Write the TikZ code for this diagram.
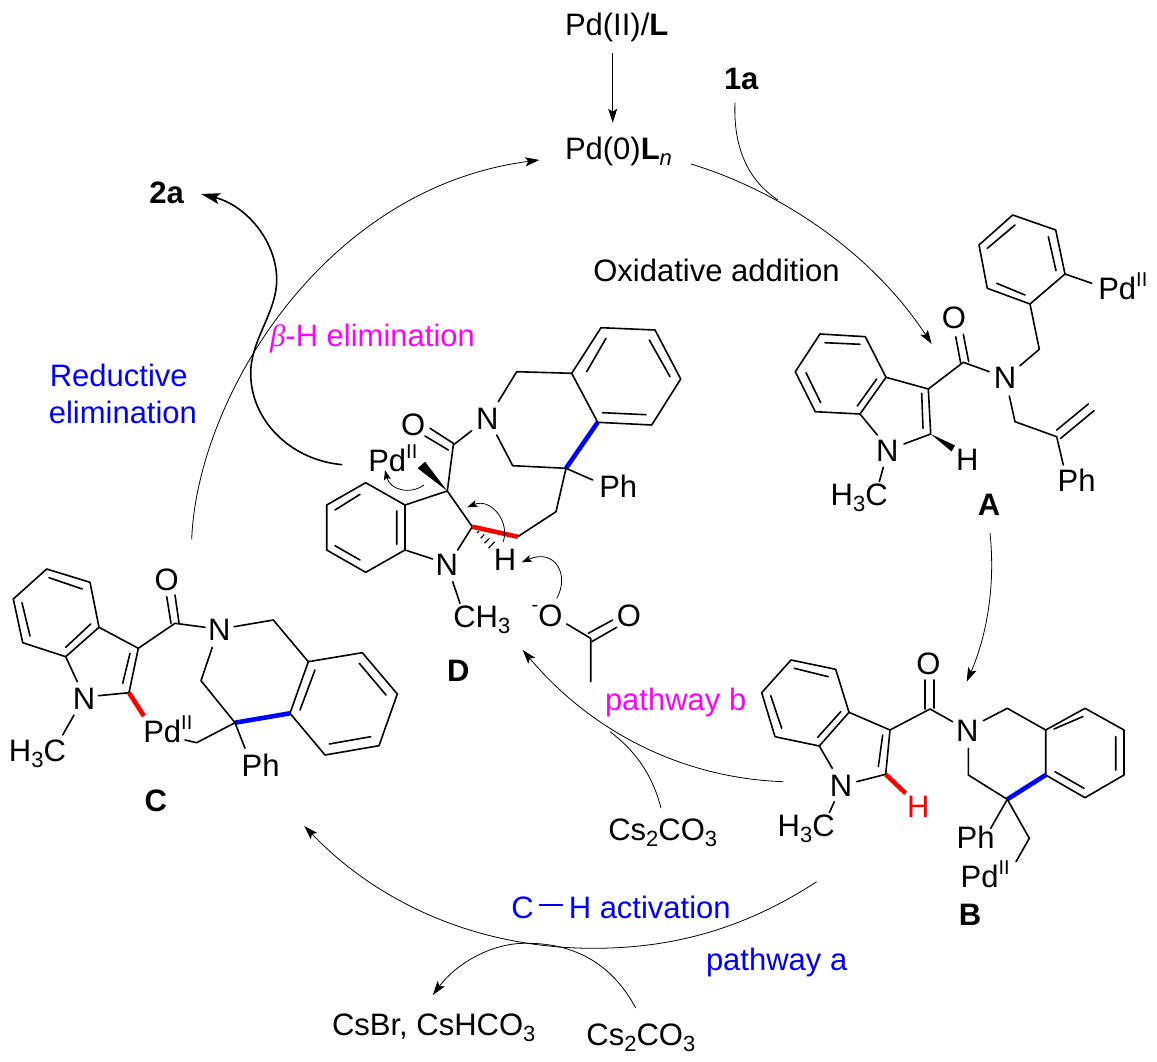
\documentclass[tikz,border=0pt]{standalone}
\usepackage{fontspec}
\setmainfont{Liberation Sans}
\newfontfamily\betafont{Liberation Serif}
\usetikzlibrary{arrows.meta}
\definecolor{mgt}{RGB}{255,0,255}
\definecolor{blu}{RGB}{0,0,255}
\definecolor{rd}{RGB}{255,0,0}
\newcommand\csub[1]{\raisebox{-6pt}{\fontsize{22}{22}\selectfont #1}}
\newcommand\csup[1]{\raisebox{13pt}{\fontsize{20}{20}\selectfont #1}}
\newcommand\PdII{Pd\csup{II}}
\tikzset{
  every node/.style={font=\fontsize{31}{37}\selectfont,inner sep=0pt,outer sep=0pt},
  lab/.style={anchor=base},
  labw/.style={anchor=base west},
  labe/.style={anchor=base east},
  bond/.style={line width=1.6pt,line cap=round,line join=round},
  redbond/.style={line width=4.6pt,draw=rd},
  blubond/.style={line width=4.6pt,draw=blu},
  wedge/.style={fill=black,draw=none},
  cyc/.style={line width=.8pt,-{Stealth[length=14pt,width=9pt,inset=3pt]}},
  feed/.style={line width=.8pt},
  small/.style={line width=.8pt,-{Stealth[length=10pt,width=7pt,inset=2pt]}},
  heavy/.style={line width=1.6pt,-{Stealth[length=19pt,width=11pt,inset=4pt]}},
}
\begin{document}
\begin{tikzpicture}[x=1pt,y=-1pt]
\useasboundingbox (0,0) rectangle (1157,1062);
\fill[white] (0,0) rectangle (1157,1062);

% ---------- cycle labels
\node[labw] (pdii) at (565,36) {Pd(II)/\textbf{L}};
\node[labw] (pd0) at (565,159.3) {Pd(0)\textbf{L}\csub{\itshape n}};
\node[labw] (s1a) at (724,90) {\textbf{1a}};
\node[labw] (s2a) at (149.3,203.3) {\textbf{2a}};
\node[labw] (oxad) at (593.3,281.7) {Oxidative addition};
\node[labw,text=mgt] (behe) at (270,346.7) {{\betafont\itshape β}-H elimination};
\node[labe,text=blu] (redu) at (187.7,386.7) {Reductive};
\node[labe,text=blu] (elim) at (197,423.3) {elimination};
\node[labw,text=mgt] (pwb) at (605,710) {pathway b};
\node[labw,text=blu] (pwa) at (706,970) {pathway a};
\node[labw,text=blu] (chact) at (511.4,918.3) {C\hspace{5pt}\rule[12.5pt]{24pt}{1.5pt}\hspace{6pt}H activation};
\node[labw] (csmid) at (608.3,840) {Cs\csub{2}CO\csub{3}};
\node[labw] (csbot) at (586.4,1045) {Cs\csub{2}CO\csub{3}};
\node[labw] (csbr) at (332,1035) {CsBr, CsHCO\csub{3}};

% ---------- cycle arrows
\coordinate (a1s) at (612.7,53.3);
\coordinate (a1e) at (612.7,122.7);
\draw[cyc] (a1s) -- (a1e);
\coordinate (a2s) at (691,164);
\coordinate (a2e) at (931.7,344);
\draw[cyc] (a2s) .. controls (776.7,190) and (870,250) .. (a2e);
\coordinate (a3s) at (735,102.7);
\coordinate (a3e) at (778,200);
\draw[feed] (a3s) .. controls (733,150) and (750,182) .. (a3e);
\coordinate (a4s) at (990,533);
\coordinate (a4e) at (966.7,681.7);
\draw[cyc] (a4s) .. controls (996,590) and (985,640) .. (a4e);
\coordinate (a5s) at (783.3,781.7);
\coordinate (a5e) at (522.7,650);
\draw[cyc] (a5s) .. controls (680,778) and (590,730) .. (a5e);
\coordinate (a6s) at (661,808.3);
\coordinate (a6e) at (610,731.7);
\draw[feed] (a6s) .. controls (652,772) and (632,748) .. (a6e);
\coordinate (a7s) at (816.7,881.7);
\coordinate (a7m) at (593.6,948.3);
\coordinate (a7e) at (304.3,826);
\draw[cyc] (a7s) .. controls (750,925) and (680,948.3) .. (a7m) .. controls (480,948.3) and (380,905) .. (a7e);
\coordinate (a8s) at (635.7,1008);
\coordinate (a8m) at (525.7,943.3);
\coordinate (a8e) at (432.9,995);
\draw[cyc] (a8s) .. controls (610,960) and (570,943) .. (a8m) .. controls (490,943) and (455,965) .. (a8e);
\coordinate (a9s) at (191.7,539.3);
\coordinate (a9e) at (539.3,160);
\draw[cyc] (a9s) .. controls (197,400) and (322,188) .. (a9e);
\coordinate (a10s) at (342.3,464.7);
\coordinate (a10a) at (250.7,373.3);
\coordinate (a10b) at (276.7,280);
\coordinate (a10e) at (201,194);
\draw[heavy] (a10s) .. controls (290,460) and (250.7,420) .. (a10a) .. controls (250.7,340) and (276.7,312) .. (a10b) .. controls (276.7,240) and (245,205) .. (a10e);

% ---------- molecule A
\node[lab] (Ao) at (954,328.3) {O};
\node[lab] (An1) at (1005,388.3) {N};
\node[labw] (Apd) at (1098.3,299.3) {\PdII};
\node[lab] (An2) at (887.3,461.7) {N};
\node[lab] (Ah) at (967.3,470.7) {H};
\node[labw] (Ame) at (830.7,505) {H\csub{3}C};
\node[labw] (Aph) at (1057.7,491.7) {Ph};
\node[lab] (Alab) at (989,515) {\textbf{A}};
\draw[bond] (820,334) -- (865.3,336.7) -- (886,377.3) -- (860,414) -- (815.3,411.7) -- (795.3,371.7) -- cycle;
\draw[bond] (825,342.7) -- (860,344.3) (806,372.7) -- (820.7,402.7) (857.3,406) -- (876.7,379);
\draw[bond] (886,377.3) -- (928.3,389) -- (930.7,434) -- (904,444);
\draw[bond] (860,414) -- (877.3,435);
\draw[bond] (921.7,393.3) -- (923,428.3);
\fill[wedge] (930.7,434) -- (955,445.5) -- (951.5,451.5) -- cycle;
\draw[bond] (883.3,467.3) -- (879.3,481.7);
\draw[bond] (928.3,389) -- (963.3,362.3) -- (989.3,371.7);
\draw[bond] (955.7,336.7) -- (960.7,363.3) (963.3,334.3) -- (968.7,361.7);
\draw[bond] (1020,365.7) -- (1039.3,349.3) -- (1030,304);
\draw[bond] (1030,304) -- (1065,274) -- (1055.7,230) -- (1012.7,215) -- (979,245) -- (987.3,288.3) -- cycle;
\draw[bond] (996.7,283.3) -- (1025,295) (987.3,248.3) -- (1015,225) (1048.3,236.7) -- (1056,270.7);
\draw[bond] (1065,274) -- (1091.7,283.3);
\draw[bond] (1009.3,396) -- (1015,421.7) -- (1056.7,436.7) -- (1063.3,465);
\draw[bond] (1056.7,430) -- (1088.3,404) (1060.7,438.3) -- (1094,410.7);

% ---------- molecule B
\node[lab] (Bo) at (928.3,674) {O};
\node[lab] (Bn1) at (967.3,741.7) {N};
\node[lab] (Bn2) at (841,796) {N};
\node[lab,text=rd] (Bh) at (918.3,817.3) {H};
\node[labw] (Bme) at (777.7,836.7) {H\csub{3}C};
\node[labw] (Bph) at (956.7,848.3) {Ph};
\node[labw] (Bpd) at (960.7,887.3) {\PdII};
\node[lab] (Blab) at (970,925.7) {\textbf{B}};
\draw[bond] (791,660) -- (835.7,669.3) -- (849,712.3) -- (819.3,746) -- (775,736.7) -- (761.7,692.7) -- cycle;
\draw[bond] (794.3,668.3) -- (828.3,676.7) (770.7,695.7) -- (781.7,728.3) (817.7,737.3) -- (840.7,711.7);
\draw[bond] (849,712.3) -- (890,730) -- (885.7,774.3) -- (856.7,781.7);
\draw[bond] (819.3,746) -- (832.3,768.3);
\draw[bond] (882.7,735) -- (878.3,766.7);
\draw[redbond] (885.7,774.3) -- (905.7,793.3);
\draw[bond] (834.3,801.7) -- (829.3,812.7);
\draw[bond] (890,730) -- (930,709) -- (952.7,721.7);
\draw[bond] (925,680) -- (925,709) (934,680) -- (934,708);
\draw[bond] (983.3,720.7) -- (1007.3,708.3) -- (1045.7,730);
\draw[bond] (1045.7,730) -- (1085,708.3) -- (1124,730) -- (1124,775) -- (1085,797.7) -- (1045.7,775) -- cycle;
\draw[bond] (1054,729) -- (1083,716.5) (1115.7,736.7) -- (1115.7,770) (1055,771.7) -- (1084,788.3);
\draw[blubond] (1045.7,775) -- (1007.3,799.3);
\draw[bond] (1007.3,799.3) -- (968.3,775) -- (968.3,748.3);
\draw[bond] (1007.3,799.3) -- (990.7,828.3);
\draw[bond] (1007.3,799.3) -- (1029.3,838.3) -- (1016,861.7);

% ---------- molecule C
\node[lab] (Cn1) at (84,709) {N};
\node[lab] (Co) at (166.7,590) {O};
\node[lab] (Cn2) at (219.3,640.7) {N};
\node[labw] (Cpd) at (143.3,742.7) {\PdII};
\node[labw] (Cme) at (9,761.7) {H\csub{3}C};
\node[labw] (Cph) at (241.7,776) {Ph};
\node[lab] (Clab) at (155.7,811.7) {\textbf{C}};
\draw[bond] (46.7,569) -- (90,582.3) -- (99,627.3) -- (65.7,656.7) -- (22.7,642.7) -- (13.3,599) -- cycle;
\draw[bond] (49,577.7) -- (82.3,589) (22,602.7) -- (30,636) (65.7,647.3) -- (90.7,624);
\draw[bond] (99,627.3) -- (138.3,648.3) -- (129,692.7) -- (98.3,695.7);
\draw[bond] (65.7,656.7) -- (77.3,681.7);
\draw[bond] (130,653.3) -- (122.7,683.3);
\draw[redbond] (129,692.7) -- (144,716);
\draw[bond] (74,715) -- (62.7,735);
\draw[bond] (138.3,648.3) -- (175,623.3) -- (205,627.3);
\draw[bond] (166.7,596.7) -- (171,623.3) (175,595) -- (179,622.7);
\draw[bond] (234,626.7) -- (273.3,620) -- (308.3,661.7);
\draw[bond] (308.3,661.7) -- (362.3,652.7) -- (397.3,694) -- (379,745.7) -- (325,755) -- (290,713.3) -- cycle;
\draw[bond] (315,670) -- (300,710) (359.3,663.3) -- (386,695) (329.3,744) -- (370.7,736.7);
\draw[blubond] (290,713.3) -- (235,722.7);
\draw[bond] (235,722.7) -- (201,680.7) -- (212.3,647.3);
\draw[bond] (235,722.7) -- (196.7,742.7) -- (185,740);
\draw[bond] (235,722.7) -- (245,748.3);

% ---------- molecule D
\node[lab] (Do) at (413.3,435) {O};
\node[lab] (Dn1) at (487.3,429) {N};
\node[labw] (Dpd) at (368.3,471) {\PdII};
\node[labw] (Dph) at (599.3,497.7) {Ph};
\node[lab] (Dn2) at (446.7,575) {N};
\node[lab] (Dh) at (505,570.7) {H};
\node[labw] (Dme) at (453.3,627.3) {CH\csub{3}};
\node[labw] (Aco) at (531.7,626.7) {\raisebox{15pt}{\fontsize{20}{20}\selectfont -}O};
\node[lab] (Aco2) at (629,626) {O};
\node[lab] (Dlab) at (458.3,681.7) {\textbf{D}};
\draw[bond] (365.7,482.7) -- (405,505) -- (405,550) -- (365.7,572.3) -- (326.7,550) -- (326.7,505) -- cycle;
\draw[bond] (335,510) -- (360,494.3) (396.7,511) -- (396.7,544.3) (335,545.7) -- (360,560);
\draw[bond] (405,505) -- (447.3,491) -- (472.3,526.7) -- (457.7,550);
\draw[bond] (405,550) -- (432.7,559);
\draw[redbond] (472.3,526.7) -- (517.7,536.7);
\draw[bond] (517.7,536.7) -- (556,511.7) -- (566,468.3);
\draw[blubond] (566,468.3) -- (597.7,422.3);
\draw[bond] (566,468.3) -- (592.7,480);
\draw[bond] (566,468.3) -- (512.7,465.7) -- (496.7,435);
\draw[bond] (498.3,401.7) -- (516.7,371.7) -- (571.7,373.3);
\draw[bond] (571.7,373.3) -- (601,327.7) -- (655,330) -- (680.7,379) -- (651.7,425) -- (597.7,422.3) -- cycle;
\draw[bond] (586.7,371.7) -- (606,338.3) (649.3,340) -- (670,376.7) (602.7,412.7) -- (646,414.7);
\draw[bond] (447.3,491) -- (453.3,445) -- (471.7,430.7);
\draw[bond] (430,428.3) -- (453.3,443.3) (425,436) -- (448.3,450);
\fill[wedge] (447.3,491) -- (417.7,468.3) -- (425,461.7) -- cycle;
\draw[line width=1.2pt] (477,533) -- (479,531) (480.8,538.2) -- (484.2,534.6) (484.6,543.2) -- (489.4,538.2) (488.5,548.2) -- (494.7,541.8);
\draw[bond] (452.7,581.7) -- (460,603.3);
\draw[bond] (566.7,624) -- (590.7,638.3) -- (590.7,681.7);
\draw[bond] (588.3,633.3) -- (612.7,620) (591.7,641.7) -- (616.7,627.3);

% ---------- electron-pushing arrows
\coordinate (e1s) at (424,485);
\coordinate (e1e) at (385,470);
\draw[small] (e1s) .. controls (410,495) and (390,490) .. (e1e);
\coordinate (e2s) at (503.3,541.7);
\coordinate (e2e) at (467.3,507.3);
\draw[small] (e2s) .. controls (510,520) and (490,498) .. (e2e);
\coordinate (e3s) at (556.7,598.3);
\coordinate (e3e) at (521.7,562.3);
\draw[small] (e3s) .. controls (570,575) and (555,548) .. (e3e);
\end{tikzpicture}
\end{document}
